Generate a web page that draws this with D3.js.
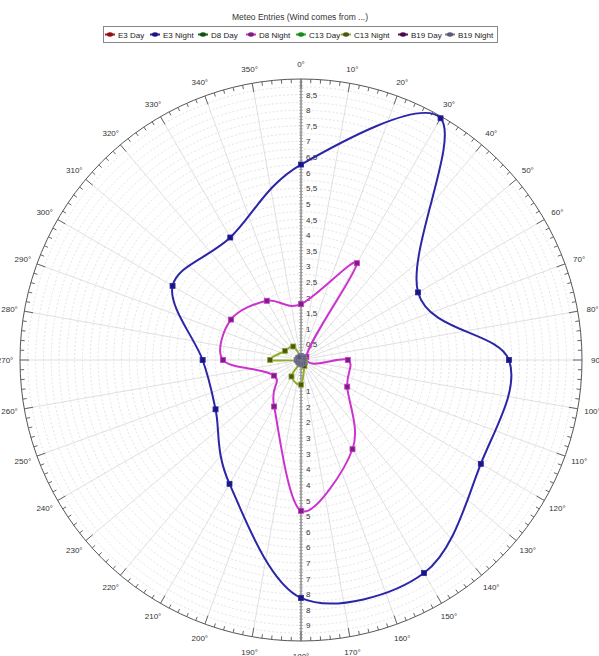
<!DOCTYPE html>
<html>
<head>
<meta charset="utf-8">
<script src="https://cdn.jsdelivr.net/npm/d3@7"></script>
<style>
  body { margin: 0; background: #fff; }
  svg { display: block; font-family: "Liberation Sans", Arial, sans-serif; }
</style>
</head>
<body>
<div id="chart"></div>
<script>
// wind direction (deg) for every entry
const angles = [0, 30, 60, 90, 120, 150, 180, 210, 240, 270, 300, 330];

// series values (wind speed), one per angle
const e3Day    = [0.05, 0.05, 0.05, 0.05, 0.05, 0.05, 0.05, 0.05, 0.05, 0.05, 0.05, 0.05];
const e3Night  = [6.26, 8.94, 4.33, 6.66, 6.65, 7.88, 7.62, 4.58, 3.16, 3.15, 4.75, 4.53];
const d8Day    = [0.05, 0.05, 0.05, 0.05, 0.05, 0.05, 0.05, 0.05, 0.05, 0.05, 0.05, 0.05];
const d8Night  = [1.79, 3.58, 0.2, 1.5, 1.71, 3.3, 4.83, 1.72, 1.0, 2.5, 2.59, 2.19];
const c13Day   = [0.05, 0.05, 0.05, 0.05, 0.05, 0.05, 0.05, 0.05, 0.05, 0.05, 0.05, 0.05];
const c13Night = [0.1, 0.08, 0.12, 0.12, 0.15, 0.22, 0.79, 0.61, 0.1, 0.99, 0.59, 0.5];
const b19Day   = [0.08, 0.08, 0.08, 0.08, 0.08, 0.08, 0.08, 0.08, 0.08, 0.08, 0.08, 0.08];
const b19Night = [0.13, 0.1, 0.12, 0.1, 0.1, 0.12, 0.14, 0.11, 0.1, 0.14, 0.11, 0.1];

const seriesNames = ["E3 Day", "E3 Night", "D8 Day", "D8 Night", "C13 Day", "C13 Night", "B19 Day", "B19 Night"];
const seriesValues = [e3Day, e3Night, d8Day, d8Night, c13Day, c13Night, b19Day, b19Night];
const lineColors   = ["#b01818", "#2a26a6", "#1e6a1e", "#cc33cc", "#22aa22", "#8fae2e", "#601060", "#7a7a96"];
const markColors   = ["#901010", "#1a1680", "#145014", "#7a2080", "#188818", "#4e5412", "#4a0a4a", "#5a5a78"];

const radialTicks = d3.range(0.5, 9, 0.5);

const width = 599, height = 656;
const cx = 301, cy = 360, R = 281;

const svg = d3.select("#chart").append("svg")
    .attr("width", width)
    .attr("height", height);

// title
svg.append("text")
    .attr("x", 300).attr("y", 20)
    .attr("text-anchor", "middle")
    .attr("font-size", 8.5)
    .attr("fill", "#333")
    .text("Meteo Entries (Wind comes from ...)");

// legend
let legend = svg.append("g");
legend.append("rect")
    .attr("x", 103.5).attr("y", 26.5)
    .attr("width", 394).attr("height", 16)
    .attr("fill", "#fff").attr("stroke", "#888");
const legendX = [105, 150, 198, 246, 296, 341, 398, 445];
seriesNames.forEach(function(name, i) {
    let g = legend.append("g").attr("transform", "translate(" + [legendX[i], 34.5] + ")");
    g.append("line").attr("x1", 0).attr("x2", 10)
        .attr("stroke", lineColors[i]).attr("stroke-width", 2);
    g.append("ellipse").attr("cx", 5).attr("rx", 3).attr("ry", 2.2)
        .attr("fill", markColors[i]);
    g.append("text").attr("x", 13).attr("y", 3)
        .attr("font-size", 8).attr("fill", "#222")
        .text(name);
});

let r = d3.scaleLinear().domain([0, 9]).range([0, R]);
let chart = svg.append("g").attr("transform", "translate(" + [cx, cy] + ")");

// grid circles
chart.append("g").selectAll("circle")
    .data(d3.range(0.25, 9, 0.25))
    .enter().append("circle")
    .attr("r", function(d) { return r(d); })
    .attr("fill", "none")
    .attr("stroke", "#dcdcdc")
    .attr("stroke-width", 0.8)
    .attr("stroke-dasharray", "2,2");

// spokes every 10 deg
let rad = function(a) { return a * Math.PI / 180; };
chart.append("g").selectAll("line")
    .data(d3.range(0, 360, 10))
    .enter().append("line")
    .attr("x1", function(d) { return r(0.3) * Math.sin(rad(d)); })
    .attr("y1", function(d) { return -r(0.3) * Math.cos(rad(d)); })
    .attr("x2", function(d) { return R * Math.sin(rad(d)); })
    .attr("y2", function(d) { return -R * Math.cos(rad(d)); })
    .attr("stroke", "#d8d8d8")
    .attr("stroke-width", 0.8);

// outer circle and ticks (pointing inward)
chart.append("circle").attr("r", R).attr("fill", "none").attr("stroke", "#555");
chart.append("g").selectAll("line")
    .data(d3.range(0, 360, 2))
    .enter().append("line")
    .attr("x1", function(d) { return R * Math.sin(rad(d)); })
    .attr("y1", function(d) { return -R * Math.cos(rad(d)); })
    .attr("x2", function(d) { let l = d % 10 === 0 ? 9 : 4; return (R - l) * Math.sin(rad(d)); })
    .attr("y2", function(d) { let l = d % 10 === 0 ? 9 : 4; return -(R - l) * Math.cos(rad(d)); })
    .attr("stroke", "#666");

// angle labels
chart.append("g").selectAll("text")
    .data(d3.range(0, 360, 10))
    .enter().append("text")
    .attr("x", function(d) { return (R + 15) * Math.sin(rad(d)); })
    .attr("y", function(d) { return -(R + 15) * Math.cos(rad(d)) + 3; })
    .attr("text-anchor", "middle")
    .attr("font-size", 8)
    .attr("fill", "#333")
    .text(function(d) { return d + "°"; });

// radial axis along the vertical
chart.append("line").attr("y1", -R).attr("y2", R).attr("stroke", "#666");
let minor = d3.range(0.1, 9, 0.1);
chart.append("g").selectAll("line")
    .data(minor.concat(minor.map(function(d) { return -d; })))
    .enter().append("line")
    .attr("x1", -2).attr("x2", 2)
    .attr("y1", function(d) { return d > 0 ? -r(d) : r(-d); })
    .attr("y2", function(d) { return d > 0 ? -r(d) : r(-d); })
    .attr("stroke", "#888").attr("stroke-width", 0.6);

let fmt = function(v) { return String(v).replace(".", ","); };
chart.append("g").selectAll("text")
    .data(radialTicks)
    .enter().append("text")
    .attr("x", 5).attr("y", function(d) { return -r(d) + 3; })
    .attr("font-size", 8).attr("fill", "#333")
    .text(fmt);
chart.append("g").selectAll("text")
    .data(radialTicks.filter(function(d) { return d >= 1; }))
    .enter().append("text")
    .attr("x", 5).attr("y", function(d) { return r(d) + 3; })
    .attr("font-size", 8).attr("fill", "#333")
    .text(function(d) { return Math.floor(d + 0.5); });

// series
let line = d3.lineRadial()
    .angle(function(d) { return rad(d[0]); })
    .radius(function(d) { return r(d[1]); })
    .curve(d3.curveCardinalClosed.tension(0));

seriesValues.forEach(function(vals, i) {
    let pts = angles.map(function(a, j) { return [a, vals[j]]; });
    let g = chart.append("g");
    g.append("path")
        .attr("d", line(pts))
        .attr("fill", "none")
        .attr("stroke", lineColors[i])
        .attr("stroke-width", 2);
    g.selectAll("rect")
        .data(pts)
        .enter().append("rect")
        .attr("x", function(d) { return r(d[1]) * Math.sin(rad(d[0])) - 2.5; })
        .attr("y", function(d) { return -r(d[1]) * Math.cos(rad(d[0])) - 2.5; })
        .attr("width", 5).attr("height", 5)
        .attr("fill", markColors[i])
        .attr("stroke", lineColors[i])
        .attr("stroke-width", 0.8);
});
</script>
</body>
</html>
